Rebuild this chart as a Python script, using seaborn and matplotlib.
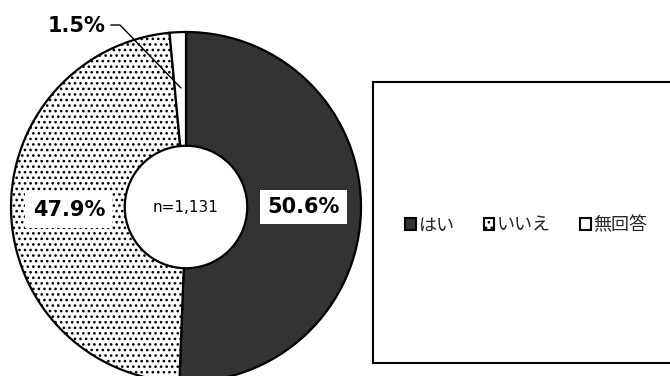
import matplotlib
matplotlib.use("Agg")
import matplotlib.pyplot as plt
from matplotlib.patches import Patch
import seaborn as sns

# Survey answers
categories = ["はい", "いいえ", "無回答"]
shares = [50.6, 47.9, 1.5]
sample_size = "n=1,131"

sns.set_theme(style="white")
plt.rcParams["font.family"] = ["Noto Sans CJK JP", "DejaVu Sans"]
plt.rcParams["hatch.color"] = "#5a5a5a"
plt.rcParams["hatch.linewidth"] = 1.1

W, H = 670, 376
fig = plt.figure(figsize=(W / 100, H / 100), dpi=100)

# Donut axes: centre (186, 207) px, radius 175 px
cx, cy, r = 186, 207, 175
ax = fig.add_axes([(cx - r) / W, (H - cy - r) / H, 2 * r / W, 2 * r / H])

faces = ["#333333", "white", "white"]
hatches = [None, "...", None]
wedges, _ = ax.pie(
    shares, startangle=90, counterclock=False, radius=1.0,
    colors=faces,
    wedgeprops=dict(width=0.65, edgecolor="black", linewidth=1.6),
)
for w, h in zip(wedges, hatches):
    if h:
        w.set_hatch(h)
ax.set_xlim(-1, 1)
ax.set_ylim(-1, 1)
ax.set_aspect("equal")
ax.axis("off")

label_font = dict(family="DejaVu Sans", weight="bold", fontsize=15, color="black")
box = dict(boxstyle="square,pad=0.35", facecolor="white", edgecolor="none")

ax.text(0.674, 0.0, f"{shares[0]:.1f}%", ha="center", va="center", bbox=box, **label_font)
ax.text(-0.669, -0.02, f"{shares[1]:.1f}%", ha="center", va="center", bbox=box, **label_font)

# Small slice: label with an elbow leader line to the wedge
ax.text(-0.625, 1.034, f"{shares[2]:.1f}%", ha="center", va="center",
        clip_on=False, **label_font)
ax.plot([-0.43, -0.377, -0.029], [1.04, 1.04, 0.68], color="black",
        lw=1.0, clip_on=False)

ax.text(0, 0.0, sample_size, ha="center", va="center", fontsize=11,
        family="DejaVu Sans", color="black")

# Framed legend panel
lx0, ly0, lx1, ly1 = 373, 82, 690, 363
lax = fig.add_axes([lx0 / W, (H - ly1) / H, (lx1 - lx0) / W, (ly1 - ly0) / H])
lax.set_xticks([])
lax.set_yticks([])
for s in lax.spines.values():
    s.set_visible(True)
    s.set_color("black")
    s.set_linewidth(1.5)
handles = [Patch(facecolor=f, edgecolor="black", hatch=h, linewidth=1.5)
           for f, h in zip(faces, hatches)]
lax.legend(handles, categories, loc="center left", bbox_to_anchor=(0.05, 0.49),
           ncol=3, frameon=False, fontsize=13, handlelength=0.6,
           handleheight=0.6, handletextpad=0.15, columnspacing=1.6)

fig.savefig("out.png", dpi=100)
